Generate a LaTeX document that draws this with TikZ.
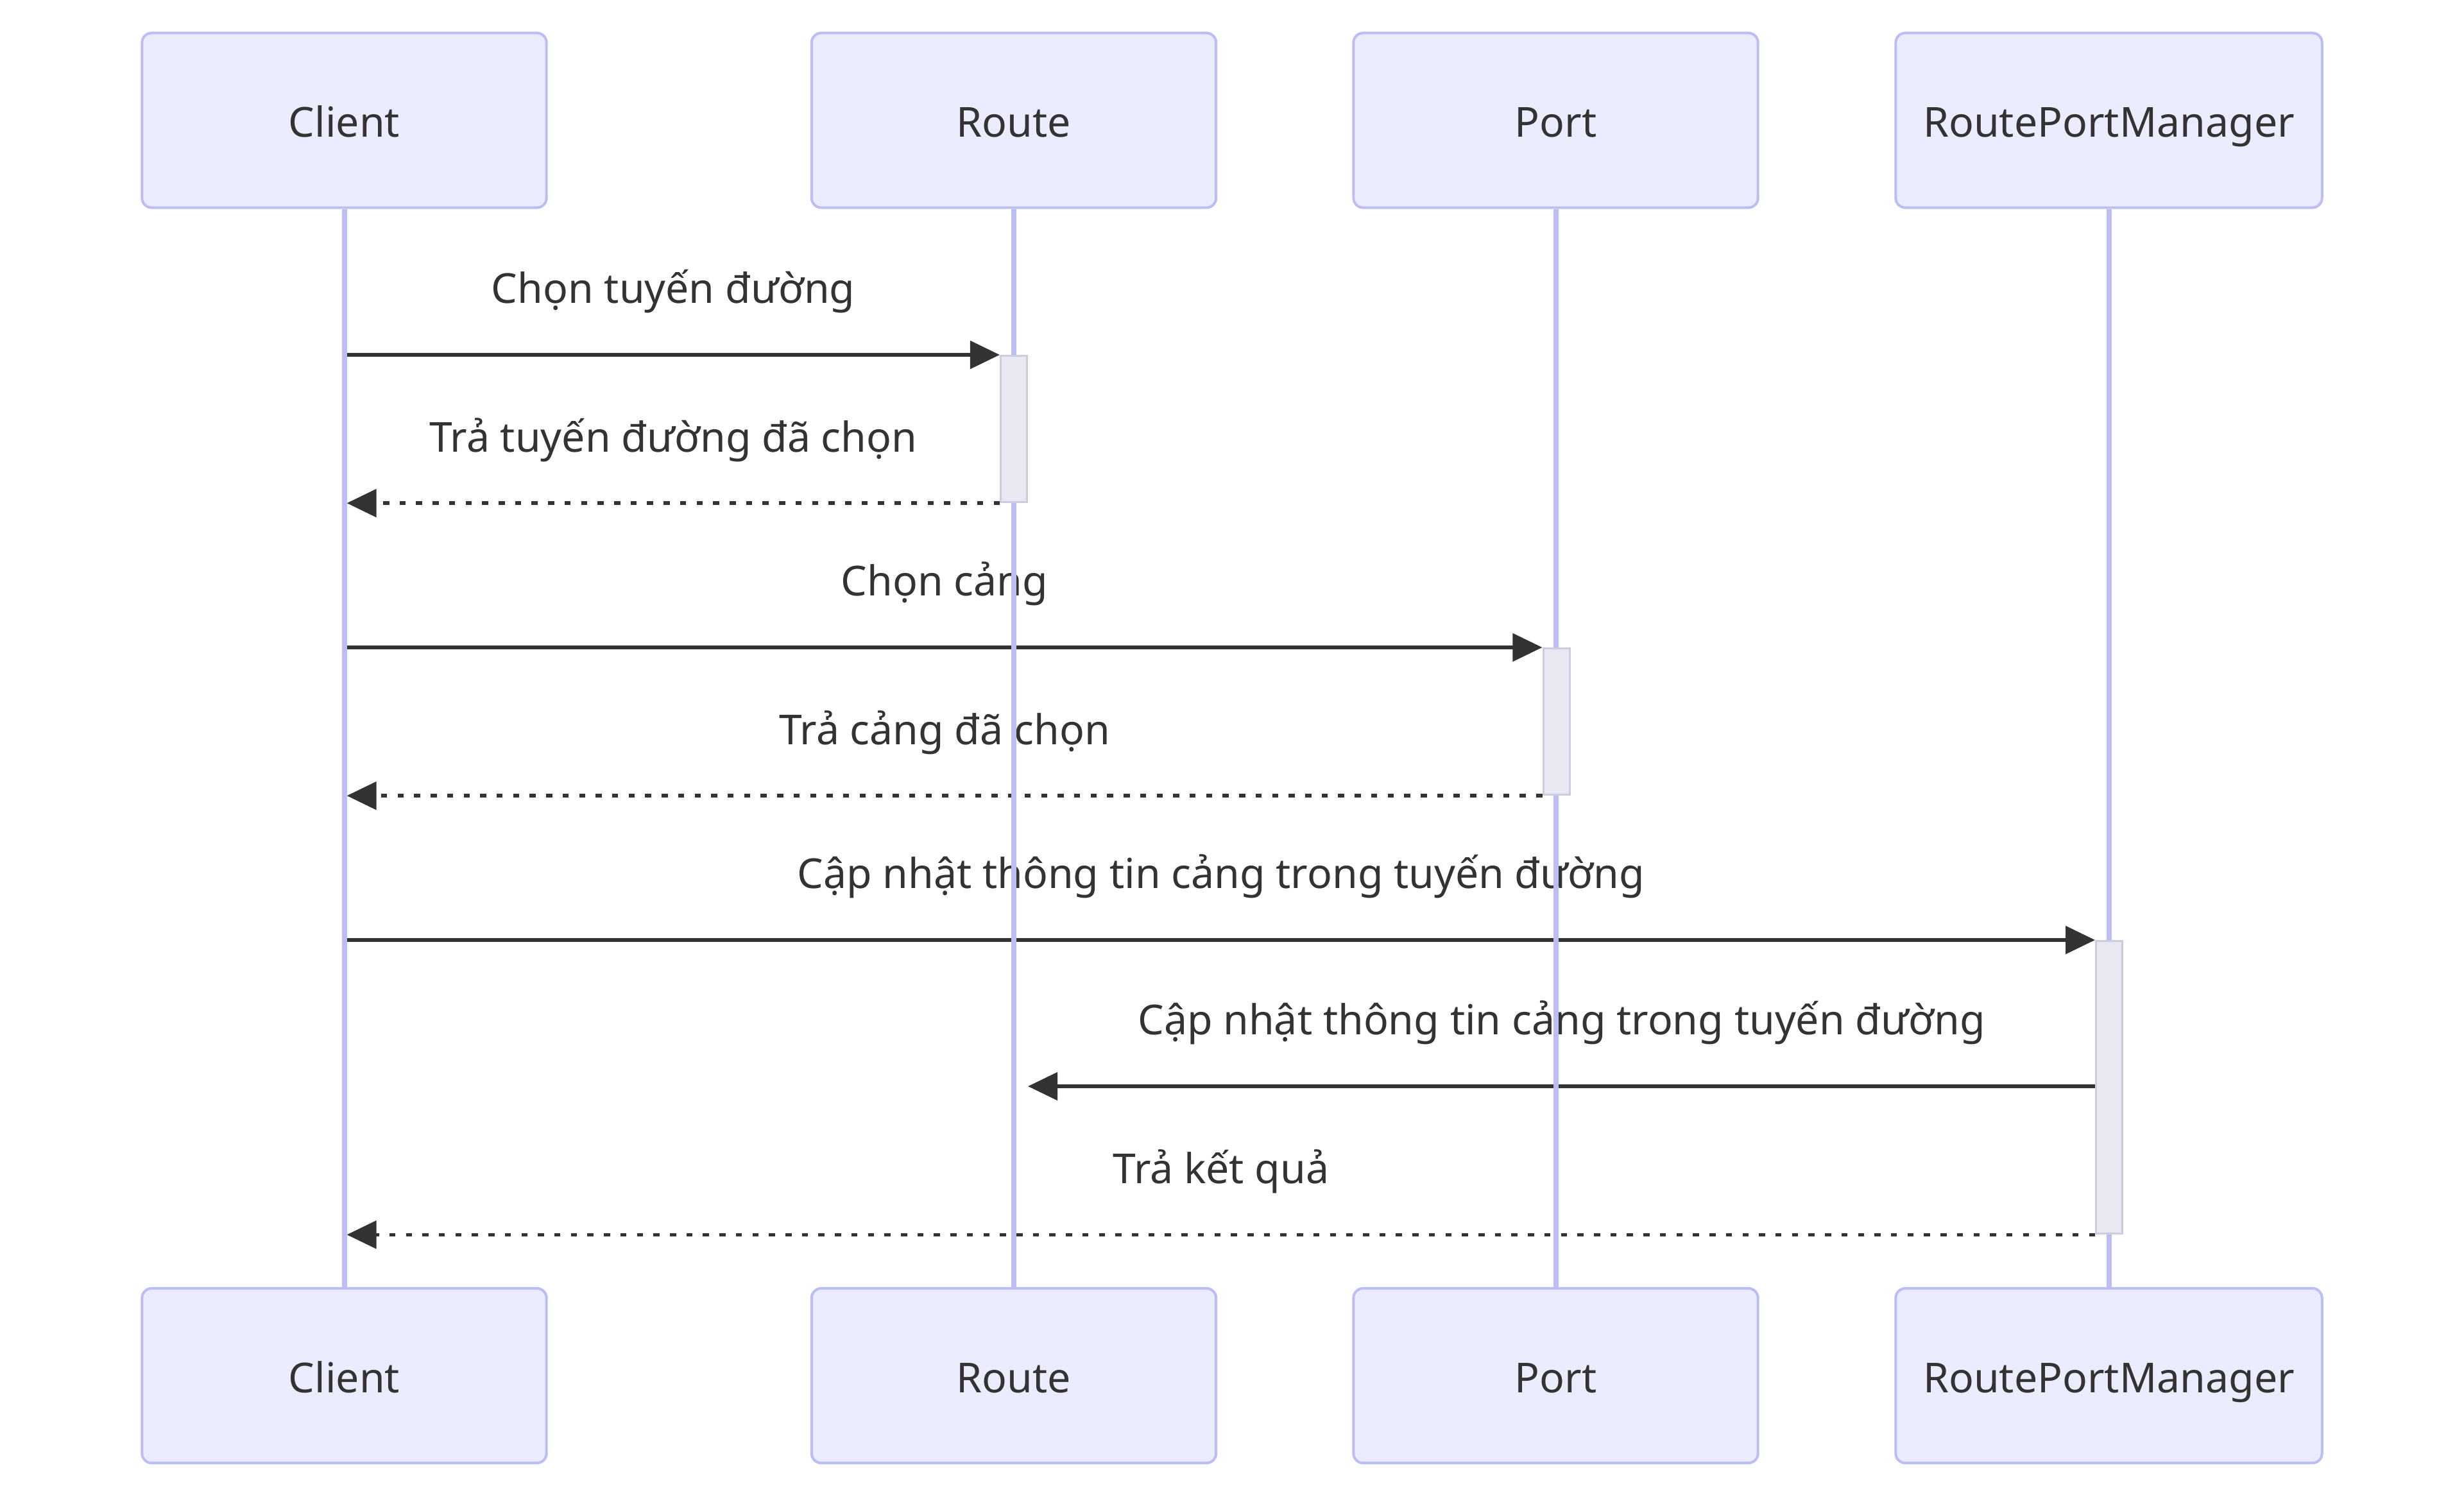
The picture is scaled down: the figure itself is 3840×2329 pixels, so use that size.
\documentclass[tikz,border=0pt]{standalone}
\usepackage{fontspec}
\setmainfont{Noto Sans}
\usepackage{tikz}
\usetikzlibrary{calc, arrows.meta}
\definecolor{lav}{RGB}{189,189,246}
\definecolor{actorfill}{RGB}{236,236,255}
\definecolor{actfill}{RGB}{232,232,242}
\definecolor{actline}{RGB}{204,204,222}
\definecolor{ink}{RGB}{51,51,51}
\pgfdeclarelayer{back}
\pgfsetlayers{back,main}

\begin{document}
\begin{tikzpicture}[x=0.01cm, y=-0.01cm,
    actor/.style={rectangle, rounded corners=0.15cm, draw=lav, fill=actorfill, line width=0.04cm,
        minimum width=6.3cm, minimum height=2.72cm, inner sep=0pt, text=ink,
        font=\fontsize{18.3pt}{22pt}\selectfont, text height=15pt, text depth=0pt},
    lifeline/.style={draw=lav, line width=0.08cm},
    actbox/.style={rectangle, draw=actline, fill=actfill, line width=0.03cm,
        minimum width=0.41cm, inner sep=0pt, anchor=north},
    msg/.style={draw=ink, line width=0.055cm, -{Triangle[length=0.46cm, width=0.43cm]}},
    reply/.style={msg, dash pattern=on 0.095cm off 0.162cm},
    msglabel/.style={midway, anchor=base, yshift=0.8cm, text=ink, inner sep=0pt,
        font=\fontsize{18.3pt}{22pt}\selectfont}]

    \useasboundingbox (0,0) rectangle (3840,2329);

    \node[actor] (client) at (536.5,187.5) {Client};
    \node[actor] (route) at (1580,187.5) {Route};
    \node[actor] (port) at (2424.5,187.5) {Port};
    \node[actor, minimum width=6.64cm] (rpm) at (3286.5,187.5) {RoutePortManager};

    \node[actor] (client-b) at (536.5,2144) {Client};
    \node[actor] (route-b) at (1580,2144) {Route};
    \node[actor] (port-b) at (2424.5,2144) {Port};
    \node[actor, minimum width=6.64cm] (rpm-b) at (3286.5,2144) {RoutePortManager};

    \draw[lifeline] (client) -- (client-b);
    \draw[lifeline] (route) -- (route-b);
    \draw[lifeline] (port) -- (port-b);
    \draw[lifeline] (rpm) -- (rpm-b);

    \node[actbox, minimum height=2.28cm] (act1) at (1580,553) {};
    \node[actbox, minimum height=2.28cm] (act2) at (2425.5,1009) {};
    \node[actbox, minimum height=4.56cm] (act3) at (3287,1465) {};

    \coordinate (m6) at ($(act3.north west)+(0,228)$);

    \begin{pgfonlayer}{back}
    \fill[white] (0,0) rectangle (3840,2329);
    \draw[msg] ($(client.south |- act1.north west)+(4,0)$) -- (act1.north west)
        node[msglabel] {Chọn tuyến đường};
    \draw[reply] (act1.south west) -- ($(client.south |- act1.south west)+(4,0)$)
        node[msglabel] {Trả tuyến đường đã chọn};
    \draw[msg] ($(client.south |- act2.north west)+(4,0)$) -- (act2.north west)
        node[msglabel] {Chọn cảng};
    \draw[reply] (act2.south west) -- ($(client.south |- act2.south west)+(4,0)$)
        node[msglabel] {Trả cảng đã chọn};
    \draw[msg] ($(client.south |- act3.north west)+(4,0)$) -- (act3.north west)
        node[msglabel] {Cập nhật thông tin cảng trong tuyến đường};
    \draw[msg] (m6) -- ($(route.south |- m6)+(22,0)$)
        node[msglabel] {Cập nhật thông tin cảng trong tuyến đường};
    \draw[reply] (act3.south west) -- ($(client.south |- act3.south west)+(4,0)$)
        node[msglabel] {Trả kết quả};
    \end{pgfonlayer}
\end{tikzpicture}
\end{document}
